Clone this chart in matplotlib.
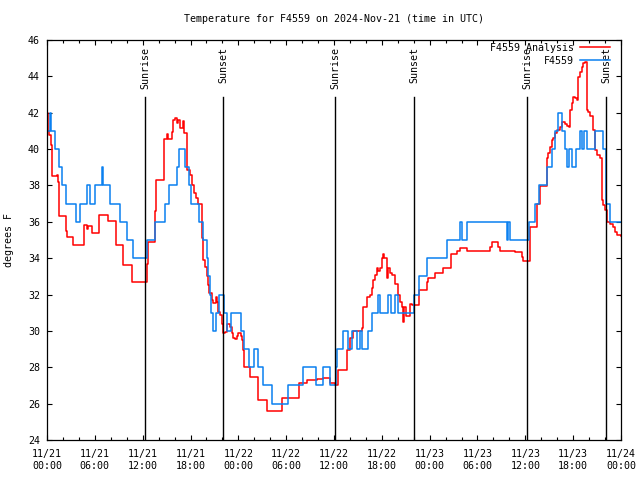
import matplotlib
matplotlib.use("Agg")
import matplotlib.pyplot as plt
from matplotlib.ticker import MultipleLocator

plt.rcParams['font.family'] = ['DejaVu Sans Mono']

# hours since 2024-11-21 00:00 UTC
analysis_hours = [0, 0.08, 0.29, 0.46, 0.59, 1.21, 1.42, 1.55, 2.38, 2.55, 3.3, 4.64, 4.98, 5.19, 5.6,
                  6.56, 7.69, 8.66, 9.58, 10.62, 12.5, 12.71, 13.59, 13.7, 14.68, 15.01, 15.22, 15.64,
                  15.85, 16.06, 16.27, 16.47, 16.68, 17.1, 17.18, 17.52, 17.94, 18.2, 18.44, 18.7, 18.98,
                  19.4, 19.53, 19.61, 19.82, 20.03, 20.24, 20.36, 20.65, 20.87, 21.2, 21.3, 21.49, 21.7,
                  21.91, 22.12, 22.33, 22.54, 22.95, 23.16, 23.37, 23.6, 23.79, 24.0, 24.21, 24.3, 24.5,
                  24.63, 24.71, 25.47, 26.51, 27.55, 29.44, 31.66, 32.57, 33.83, 34.66, 35.5, 36.13,
                  36.55, 37.59, 38.0, 38.43, 39.47, 39.68, 40.1, 40.52, 40.73, 40.94, 41.14, 41.35,
                  41.56, 41.77, 41.98, 42.19, 42.3, 42.61, 42.81, 43.02, 43.23, 43.65, 44.07, 44.28,
                  44.49, 44.7, 44.78, 45.03, 45.53, 45.74, 46.04, 46.71, 47.63, 47.84, 48.67, 49.72,
                  50.64, 51.47, 51.81, 52.64, 55.57, 55.78, 56.62, 56.83, 58.71, 59.55, 59.76, 60.59,
                  61.42, 61.84, 62.68, 62.89, 63.1, 63.31, 63.51, 63.72, 64.02, 64.35, 64.56, 64.98,
                  65.19, 65.48, 65.6, 65.82, 66.02, 66.23, 66.44, 66.65, 66.86, 67.07, 67.27, 67.49,
                  67.7, 67.9, 68.11, 68.53, 68.74, 68.95, 69.37, 69.58, 69.78, 69.99, 70.2, 70.62,
                  71.04, 71.25, 71.46, 72.0]
analysis_temps = [42.0, 41.0, 40.8, 40.2, 38.5, 38.6, 38.2, 36.3, 35.5, 35.15, 34.75, 35.8, 35.6, 35.75, 35.4,
                  36.4, 36.05, 34.75, 33.6, 32.7, 33.7, 34.9, 36.6, 38.3, 40.55, 40.83, 40.55, 40.96,
                  41.6, 41.7, 41.45, 41.6, 41.15, 41.56, 40.87, 38.85, 38.6, 38.0, 37.57, 37.3, 37.0,
                  35.1, 35.09, 33.9, 33.5, 33.0, 32.5, 32.1, 31.7, 31.52, 31.88, 31.6, 31.06, 30.9,
                  30.4, 29.9, 29.95, 30.4, 30.2, 29.87, 29.6, 29.55, 29.7, 29.87, 29.9, 29.7, 29.5,
                  28.95, 28.03, 27.48, 26.2, 25.6, 26.3, 27.15, 27.3, 27.35, 27.4, 27.12, 27.03,
                  27.85, 28.95, 29.6, 30.0, 30.14, 31.33, 31.88, 32.0, 32.34, 32.8, 33.07, 33.44,
                  33.3, 33.44, 34.0, 34.23, 34.0, 32.9, 33.44, 33.2, 33.1, 32.6, 31.97, 31.6,
                  31.33, 30.5, 31.33, 30.82, 31.48, 31.43, 31.43, 32.25, 32.7, 32.9, 33.2, 33.44,
                  34.23, 34.41, 34.54, 34.4, 34.63, 34.87, 34.63, 34.4, 34.32, 34.08, 33.85, 35.73,
                  37.0, 37.97, 39.5, 39.77, 40.13, 40.5, 40.6, 40.87, 41.05, 41.2, 41.5, 41.4,
                  41.27, 41.2, 42.15, 42.52, 42.88, 42.8, 42.7, 43.98, 44.26, 44.53, 44.72, 44.81,
                  42.15, 42.05, 41.82, 41.05, 39.95, 39.68, 39.5, 37.2, 36.93, 36.65, 36.0, 35.9,
                  35.7, 35.46, 35.28, 35.2]

obs_hours = [0, 0.04, 0.38, 0.5, 1.0, 1.5, 1.84, 2.38, 3.7, 4.14, 5.06, 5.39, 6.02, 6.86, 7.07, 7.9,
             9.16, 10.0, 10.83, 12.5, 13.55, 14.8, 15.35, 16.35, 16.5, 17.3, 17.8, 18.1, 19.1, 19.6,
             20.03, 20.24, 20.4, 20.53, 20.87, 21.2, 21.62, 22.24, 22.54, 23.04, 24.3, 24.71, 25.34,
             25.97, 26.47, 27.14, 28.18, 30.27, 32.15, 33.74, 34.66, 35.5, 36.2, 36.34, 37.17, 37.8,
             38.22, 38.85, 39.26, 39.47, 40.3, 40.73, 41.56, 41.77, 42.8, 43.2, 43.7, 44.07, 46.07,
             46.7, 47.63, 50.21, 51.8, 52.0, 52.72, 57.66, 57.8, 58.08, 60.5, 61.2, 61.76, 62.68,
             63.4, 63.72, 64.14, 64.56, 64.98, 65.2, 65.5, 65.8, 66.3, 66.86, 67.1, 67.3, 67.7,
             68.74, 69.78, 70.12, 70.62, 71.04, 72.0]
obs_temps = [42, 41, 42, 41, 40, 39, 38, 37, 36, 37, 38, 37, 38, 39, 38, 37,
             36, 35, 34, 35, 36, 37, 38, 39, 40, 39, 38, 37, 36, 35,
             34, 33, 32, 31, 30, 31, 32, 31, 30, 31, 30, 29, 28,
             29, 28, 27, 26, 27, 28, 27, 28, 27, 28, 29, 30, 29,
             30, 29, 30, 29, 30, 31, 32, 31, 32, 31, 32, 31, 32,
             33, 34, 35, 36, 35, 36, 35, 36, 35, 36, 37, 38, 39,
             40, 41, 42, 41, 40, 39, 40, 39, 40, 41, 40, 41, 40,
             41, 40, 37, 36, 36, 36]

sun_hours = [12.29, 22.08, 36.13, 46.04, 60.21, 70.12]
sun_labels = ["Sunrise", "Sunset", "Sunrise", "Sunset", "Sunrise", "Sunset"]

xtick_hours = list(range(0, 73, 6))
xtick_labels = ["11/21\n00:00", "11/21\n06:00", "11/21\n12:00", "11/21\n18:00",
                "11/22\n00:00", "11/22\n06:00", "11/22\n12:00", "11/22\n18:00",
                "11/23\n00:00", "11/23\n06:00", "11/23\n12:00", "11/23\n18:00",
                "11/24\n00:00"]

fig = plt.figure(figsize=(6.4, 4.8), dpi=100)
ax = fig.add_axes([47/640, 1-440/480, 574/640, 400/480])

ax.step(analysis_hours, analysis_temps, where='post', color='#ff0000', lw=1.1, label='F4559 Analysis')
ax.step(obs_hours, obs_temps, where='post', color='#0a80f0', lw=1.1, label='F4559')

for h, lab in zip(sun_hours, sun_labels):
    ax.plot([h, h], [0, 0.8575], color='black', lw=1.0, transform=ax.get_xaxis_transform())
    ax.text(h, 0.9825, lab, rotation=90, ha='center', va='top', fontsize=7.2,
            transform=ax.get_xaxis_transform())

ax.set_xlim(0, 72)
ax.set_ylim(24, 46)
ax.set_xticks(xtick_hours)
ax.set_xticklabels(xtick_labels)
ax.xaxis.set_minor_locator(MultipleLocator(2))
ax.yaxis.set_major_locator(MultipleLocator(2))
ax.tick_params(which='both', direction='in', top=True, right=True, labelsize=7.2, width=0.8)
ax.tick_params(axis='x', pad=6.5)
ax.tick_params(axis='y', pad=5)
ax.tick_params(which='major', length=3.5)
ax.tick_params(which='minor', length=2.2)
for s in ax.spines.values():
    s.set_linewidth(0.9)

ax.set_ylabel('degrees F', fontsize=7.2, labelpad=10)
ax.set_title('Temperature for F4559 on 2024-Nov-21 (time in UTC)', fontsize=7.2, pad=13)

leg = ax.legend(loc='upper right', bbox_to_anchor=((611 - 47) / 574, 1 - 2 / 400),
                frameon=False, fontsize=7.2, markerfirst=False,
                handlelength=3.0, handletextpad=0.6, labelspacing=0.3,
                borderaxespad=0.0, borderpad=0.1)
for t in leg.get_texts():
    t.set_ha('right')

fig.savefig('out.png', dpi=100)
